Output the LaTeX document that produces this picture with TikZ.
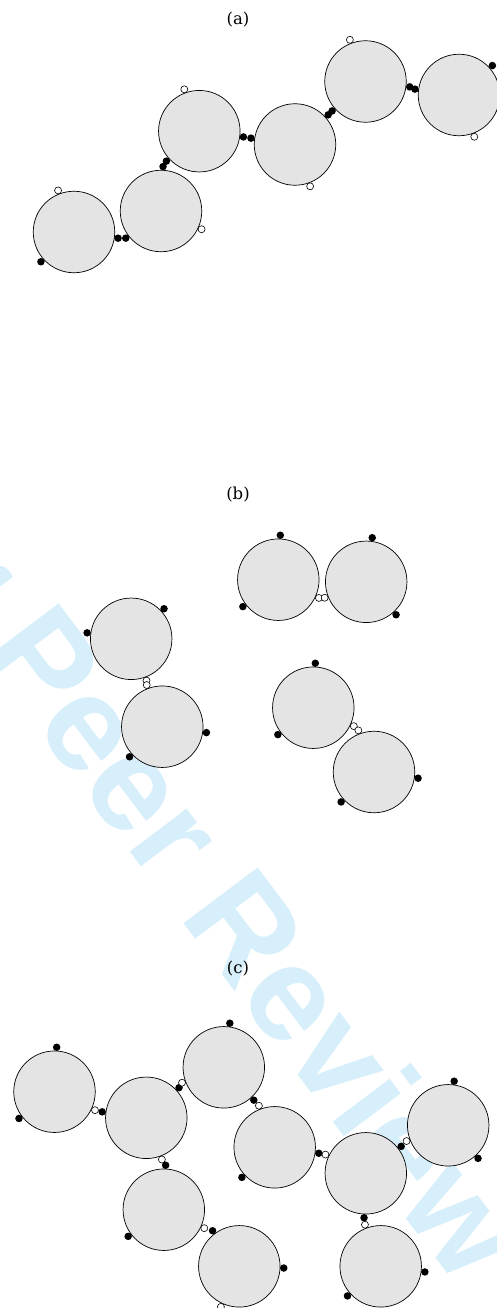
\documentclass[tikz,border=0pt]{standalone}
\usepackage{fontspec}
\setmainfont{DejaVu Serif}
\newfontfamily\markfont{Liberation Sans}
\definecolor{discgray}{RGB}{228,228,228}
\definecolor{markblue}{RGB}{214,239,251}

\begin{document}
\begin{tikzpicture}[
    x=1pt, y=-1pt,
    disc/.style={draw, circle, fill=discgray, minimum size=81.5pt, inner sep=0pt, line width=0.7pt},
    fdot/.style={circle, fill=black, minimum size=7.5pt, inner sep=0pt},
    odot/.style={circle, draw, fill=white, minimum size=7pt, inner sep=0pt, line width=0.6pt},
    lbl/.style={font=\fontsize{16.5}{20}\selectfont}
]
\useasboundingbox (0,0) rectangle (496,1308);
% watermark
\begin{scope}
\clip (0,0) rectangle (496,1308);
\node[rotate=-53, anchor=base west, inner sep=0pt, text=markblue, font=\markfont\bfseries\fontsize{135}{135}\selectfont] (wm) at (-174,449) {For Peer Review};
\end{scope}

% (a) chain
\node[lbl] (la) at (238,20) {(a)};
\node[disc] (a1) at (74,232) {};
\node[disc] (a2) at (161,211) {};
\node[disc] (a3) at (199.3,131.2) {};
\node[disc] (a4) at (295,144.5) {};
\node[disc] (a5) at (365.5,81.5) {};
\node[disc] (a6) at (459,95) {};
\foreach \a in {222,-8} \path (a1) ++(\a:44.5pt) node[fdot] {};
\path (a1) ++(111:44.5pt) node[odot] {};
\foreach \a in {217.6,87.4} \path (a2) ++(\a:44.5pt) node[fdot] {};
\path (a2) ++(-24.2:44.5pt) node[odot] {};
\foreach \a in {222.3,-7.4} \path (a3) ++(\a:44.5pt) node[fdot] {};
\path (a3) ++(109.7:44.5pt) node[odot] {};
\foreach \a in {171.8,41.8} \path (a4) ++(\a:44.5pt) node[fdot] {};
\path (a4) ++(-70.1:44.5pt) node[odot] {};
\foreach \a in {221.4,-6.9} \path (a5) ++(\a:44.5pt) node[fdot] {};
\path (a5) ++(110.5:44.5pt) node[odot] {};
\foreach \a in {172.4,41.4} \path (a6) ++(\a:44.5pt) node[fdot] {};
\path (a6) ++(-69.9:44.5pt) node[odot] {};

% (b) pairs
\node[lbl] (lb) at (238,495) {(b)};
\node[disc] (b1) at (278.3,579.7) {};
\node[disc] (b2) at (366.2,581.8) {};
\node[disc] (b3) at (131.2,638.8) {};
\node[disc] (b4) at (162.3,726.7) {};
\node[disc] (b5) at (313.3,707.7) {};
\node[disc] (b6) at (374,772) {};
\foreach \a in {87.4,217.2} \path (b1) ++(\a:44.5pt) node[fdot] {};
\path (b1) ++(-24.2:44.5pt) node[odot] {};
\foreach \a in {82.2,-47.8} \path (b2) ++(\a:44.5pt) node[fdot] {};
\path (b2) ++(201:44.5pt) node[odot] {};
\foreach \a in {42.5,172.3} \path (b3) ++(\a:44.5pt) node[fdot] {};
\path (b3) ++(-69.9:44.5pt) node[odot] {};
\foreach \a in {-7.6,222.6} \path (b4) ++(\a:44.5pt) node[fdot] {};
\path (b4) ++(110.5:44.5pt) node[odot] {};
\foreach \a in {87.4,217.2} \path (b5) ++(\a:44.5pt) node[fdot] {};
\path (b5) ++(-24.4:44.5pt) node[odot] {};
\foreach \a in {-8,222.3} \path (b6) ++(\a:44.5pt) node[fdot] {};
\path (b6) ++(110.6:44.5pt) node[odot] {};

% (c) network
\node[lbl] (lc) at (238,969) {(c)};
\node[disc] (c1) at (54.5,1091.7) {};
\node[disc] (c2) at (146.3,1117.8) {};
\node[disc] (c3) at (223.8,1067.3) {};
\node[disc] (c4) at (274.7,1147.3) {};
\node[disc] (c5) at (365.8,1173.3) {};
\node[disc] (c6) at (448.2,1125.3) {};
\node[disc] (c7) at (163.8,1209.7) {};
\node[disc] (c8) at (239.3,1266.3) {};
\node[disc] (c9) at (380.7,1266.3) {};
\foreach \a in {87.2,217} \path (c1) ++(\a:44.5pt) node[fdot] {};
\path (c1) ++(-24.5:44.5pt) node[odot] {};
\foreach \a in {172.3,42.6} \path (c2) ++(\a:44.5pt) node[fdot] {};
\path (c2) ++(-69.5:44.5pt) node[odot] {};
\foreach \a in {82.2,-47.6} \path (c3) ++(\a:44.5pt) node[fdot] {};
\path (c3) ++(200.2:44.5pt) node[odot] {};
\foreach \a in {222.5,-7.7} \path (c4) ++(\a:44.5pt) node[fdot] {};
\path (c4) ++(110.8:44.5pt) node[odot] {};
\foreach \a in {37.3,-92.3} \path (c5) ++(\a:44.5pt) node[fdot] {};
\path (c5) ++(155.1:44.5pt) node[odot] {};
\foreach \a in {82.3,-47.9} \path (c6) ++(\a:44.5pt) node[fdot] {};
\path (c6) ++(200.7:44.5pt) node[odot] {};
\foreach \a in {87.6,216.8} \path (c7) ++(\a:44.5pt) node[fdot] {};
\path (c7) ++(-24.5:44.5pt) node[odot] {};
\foreach \a in {126.9,-2.2} \path (c8) ++(\a:44.5pt) node[fdot] {};
\path (c8) ++(-114.4:44.5pt) node[odot] {};
\foreach \a in {-7.3,221.7} \path (c9) ++(\a:44.5pt) node[fdot] {};
\path (c9) ++(110.7:44.5pt) node[odot] {};
\end{tikzpicture}
\end{document}
